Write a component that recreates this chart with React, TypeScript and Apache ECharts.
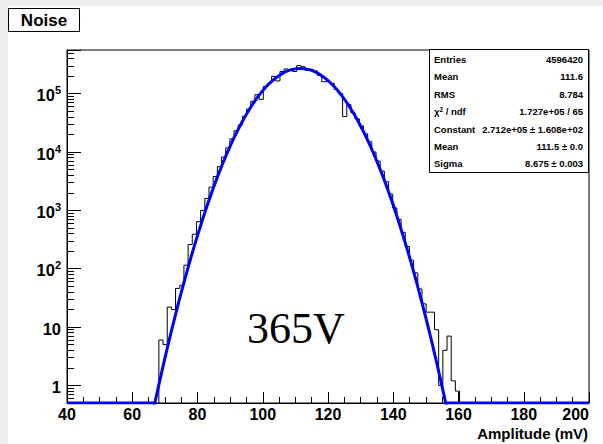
import React, { useEffect, useRef } from "react";
import * as echarts from "echarts";

// ---- histogram (bins of 1.28 mV, listed from the first non-empty bin) ----
const firstBinEdge = 68.16;
const binWidth = 1.28;
const binCounts = [
  6, 5, 22, 20, 46, 52, 115, 260, 390, 640,
  1000, 1600, 2500, 3800, 5600, 8200, 11800, 16800, 23200, 29000,
  41000, 54500, 73800, 96000, 80000, 133000, 151000, 198000, 165000, 241000,
  265000, 250000, 240000, 303000, 290000, 250000, 262000, 245000, 205000, 160000,
  163000, 150000, 118000, 100000, 40700, 64700, 47000, 37000, 28000, 20500,
  15000, 10000, 7000, 4700, 3100, 1900, 1100, 700, 420, 240,
  140, 85, 45, 25, 18, 18, 9, 1, 4, 7,
  1.2, 0.8,
];

// ---- gaussian fit curve, read at 3 mV steps ----
const fitX = [
  66.5, 69.5, 72.5, 75.5, 78.5, 81.5, 84.5, 87.5, 90.5, 93.5, 96.5,
  99.5, 102.5, 105.5, 108.5, 111.5, 114.5, 117.5, 120.5, 123.5, 126.5,
  129.5, 132.5, 135.5, 138.5, 141.5, 144.5, 147.5, 150.5, 153.5, 156.5,
];
const fitY = [
  0.389, 2.2, 11.08, 49.4, 195.4, 686, 2137, 5905, 14480, 31510, 60830,
  104200, 158300, 213500, 255500, 271200, 255500, 213500, 158300, 104200, 60830,
  31510, 14480, 5905, 2137, 686, 195.4, 49.4, 11.08, 2.2, 0.389,
];
const fitFloorLeftX = [40, 66.92];
const fitFloorRightX = [156.08, 200];

// ---- axes ----
const xMin = 40;
const xMax = 200;
const xStep = 20;
const yMin = 0.5;
const yMax = 5.6e5;

// ---- texts ----
const titleText = "Noise";
const xTitle = "Amplitude (mV)";
const annotation = "365V";
const statLabels = ["Entries", "Mean", "RMS", "{a|\u03C7}{s|2}{a| / ndf}", "Constant", "Mean", "Sigma"];
const statValues = ["4596420", "111.6", "8.784", "1.727e+05 / 65", "2.712e+05 \u00B1 1.608e+02", "111.5 \u00B1 0.0", "8.675 \u00B1 0.003"];

const FONT = "'Liberation Sans', Arial, Helvetica, sans-serif";

export default function App() {
  const ref = useRef<HTMLDivElement | null>(null);

  useEffect(() => {
    if (!ref.current) return;
    const chart = echarts.init(ref.current, undefined, { renderer: "svg" });

    const FLOOR = 0.2;
    const histPoints: [number, number][] = [[xMin, FLOOR], [firstBinEdge, FLOOR]];
    binCounts.forEach((c, i) => {
      histPoints.push([+(firstBinEdge + i * binWidth).toFixed(3), c > 0 ? c : FLOOR]);
    });
    const lastEdge = +(firstBinEdge + binCounts.length * binWidth).toFixed(3);
    histPoints.push([lastEdge, binCounts[binCounts.length - 1]]);
    histPoints.push([lastEdge, FLOOR]);
    histPoints.push([xMax, FLOOR]);

    const fitPoints = fitX.map((x, i) => [x, fitY[i]]);

    const statChildren: any[] = [];
    const boxX = 429.5, boxY = 49.5, boxW = 159, boxH = 123;
    statChildren.push({
      type: "rect",
      shape: { x: boxX, y: boxY, width: boxW, height: boxH },
      style: { fill: "#fff", stroke: "#000", lineWidth: 1 },
    });
    statLabels.forEach((lab, i) => {
      const y = 59.5 + i * 17.4;
      statChildren.push({
        type: "text",
        x: 434,
        y,
        style: {
          text: lab,
          fill: "#000",
          font: `bold 9.5px ${FONT}`,
          textAlign: "left",
          textVerticalAlign: "middle",
          rich: {
            a: { fontSize: 9.5, fontWeight: "bold", fontFamily: FONT, fill: "#000" },
            s: { fontSize: 6.5, fontWeight: "bold", fontFamily: FONT, fill: "#000", padding: [0, 0, 5, 0] },
          },
        },
      });
      statChildren.push({
        type: "text",
        x: 583,
        y,
        style: {
          text: statValues[i],
          fill: "#000",
          font: `bold 9.5px ${FONT}`,
          textAlign: "right",
          textVerticalAlign: "middle",
        },
      });
    });

    chart.setOption({
      animation: false,
      backgroundColor: "#fff",
      grid: {
        left: 67,
        right: 14,
        top: 50,
        bottom: 41,
        show: true,
        borderColor: "#000",
        borderWidth: 1,
        backgroundColor: "transparent",
      },
      xAxis: {
        type: "value",
        min: xMin,
        max: xMax,
        interval: xStep,
        axisLine: { show: true, onZero: false, lineStyle: { color: "#000", width: 1 } },
        axisTick: { show: true, inside: true, length: 11, lineStyle: { color: "#000", width: 1 } },
        minorTick: { show: true, splitNumber: 4, length: 6, lineStyle: { color: "#000", width: 1 } },
        splitLine: { show: false },
        axisLabel: {
          color: "#000",
          fontSize: 16,
          fontWeight: "bold",
          fontFamily: FONT,
          margin: 3,
          alignMaxLabel: "right",
        },
      },
      yAxis: {
        type: "log",
        logBase: 10,
        min: yMin,
        max: yMax,
        axisLine: { show: true, lineStyle: { color: "#000", width: 1 } },
        axisTick: { show: true, inside: true, length: 14, lineStyle: { color: "#000", width: 1 } },
        minorTick: { show: true, splitNumber: 9, length: 7, lineStyle: { color: "#000", width: 1 } },
        splitLine: { show: false },
        minorSplitLine: { show: false },
        axisLabel: {
          margin: 6,
          showMinLabel: false,
          showMaxLabel: false,
          formatter: (v: number) => {
            const l = Math.log10(v);
            const e = Math.round(l);
            if (Math.abs(l - e) > 1e-6) return "";
            if (e === 0) return "{b|1}";
            if (e === 1) return "{b|10}";
            return `{b|10}{s|${e}}`;
          },
          rich: {
            b: { fontSize: 16.5, fontWeight: "bold", fontFamily: FONT, color: "#000", padding: [3, 0, 0, 0] },
            s: { fontSize: 11, fontWeight: "bold", fontFamily: FONT, color: "#000", padding: [0, 0, 7, 0] },
          },
        },
      },
      series: [
        {
          name: "hist",
          type: "line",
          step: "end",
          data: histPoints,
          symbol: "none",
          lineStyle: { color: "#000", width: 1 },
          clip: true,
          z: 2,
        },
        {
          name: "fit",
          type: "line",
          smooth: true,
          data: fitPoints,
          symbol: "none",
          lineStyle: { color: "#0000ff", width: 3 },
          clip: true,
          z: 3,
        },
        {
          name: "fitFloorL",
          type: "line",
          data: fitFloorLeftX.map((x) => [x, yMin]),
          symbol: "none",
          lineStyle: { color: "#0000ff", width: 3 },
          z: 3,
        },
        {
          name: "fitFloorR",
          type: "line",
          data: fitFloorRightX.map((x) => [x, yMin]),
          symbol: "none",
          lineStyle: { color: "#0000ff", width: 3 },
          z: 3,
        },
      ],
      graphic: [
        { type: "rect", z: -10, shape: { x: 0, y: 0, width: 8, height: 444 }, style: { fill: "#eeeeee" } },
        { type: "rect", z: -10, shape: { x: 0, y: 0, width: 603, height: 6 }, style: { fill: "#eeeeee" } },
        {
          type: "rect",
          z: 10,
          shape: { x: 8.5, y: 8.5, width: 71, height: 23 },
          style: { fill: "#fff", stroke: "#000", lineWidth: 1 },
        },
        {
          type: "text",
          z: 11,
          x: 44,
          y: 20,
          style: {
            text: titleText,
            fill: "#000",
            font: `bold 17px ${FONT}`,
            textAlign: "center",
            textVerticalAlign: "middle",
          },
        },
        {
          type: "text",
          z: 11,
          x: 588,
          y: 433,
          style: {
            text: xTitle,
            fill: "#000",
            font: `bold 15px ${FONT}`,
            textAlign: "right",
            textVerticalAlign: "middle",
          },
        },
        {
          type: "text",
          z: 11,
          x: 247,
          y: 328,
          style: {
            text: annotation,
            fill: "#000",
            font: `44px 'Liberation Serif', 'Times New Roman', serif`,
            textAlign: "left",
            textVerticalAlign: "middle",
          },
        },
        { type: "group", z: 20, children: statChildren },
      ],
    });

    return () => chart.dispose();
  }, []);

  return (
    <div
      ref={ref}
      style={{ position: "fixed", left: 0, top: 0, width: 603, height: 444, background: "#fff" }}
    />
  );
}
